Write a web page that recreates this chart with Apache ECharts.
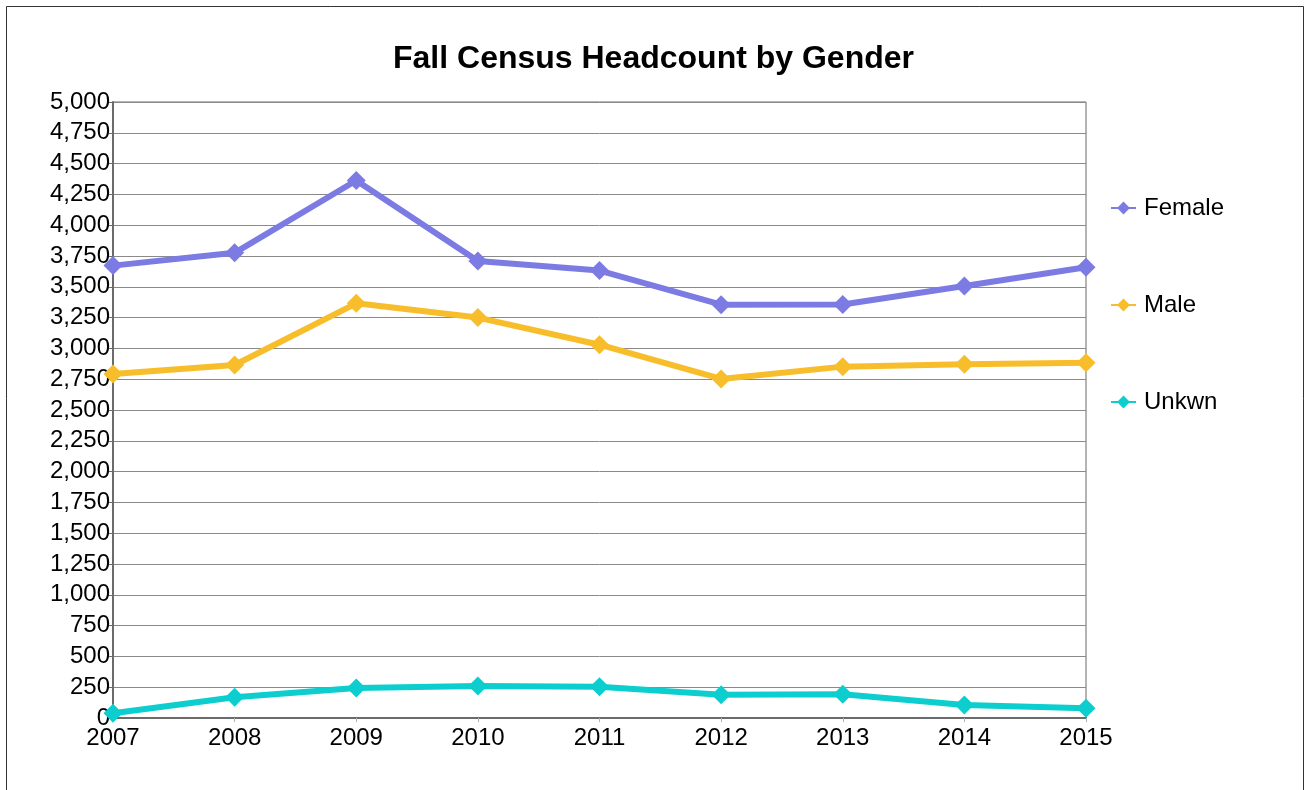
<!DOCTYPE html>
<html>
<head>
<meta charset="utf-8">
<script src="https://cdn.jsdelivr.net/npm/echarts@6/dist/echarts.min.js"></script>
<style>
  html, body { margin: 0; padding: 0; background: #fff; }
  #chart { width: 1307px; height: 790px; }
</style>
</head>
<body>
<div id="chart"></div>
<script>
// ======================
// DATA
// ======================

const years = ['2007', '2008', '2009', '2010', '2011', '2012', '2013', '2014', '2015'];
const female = [3672, 3776, 4363, 3709, 3632, 3355, 3356, 3506, 3659];
const male = [2792, 2865, 3366, 3250, 3030, 2752, 2852, 2871, 2884];
const unkwn = [38, 168, 244, 260, 254, 188, 192, 105, 80];

const seriesNames = ['Female', 'Male', 'Unkwn'];
const seriesColors = ['#7b7be3', '#f8bd2a', '#0ccece'];

const FONT = '"Liberation Sans", Arial, sans-serif';

// ======================
// OPTION BUILDER
// ======================

function buildSeries(name, data, color) {
    return {
        name,
        type: 'line',
        data,
        symbol: 'diamond',
        symbolSize: 19,
        lineStyle: { width: 6, color },
        itemStyle: { color },
        emphasis: { disabled: true },
        animation: false
    };
}

const option = {
    backgroundColor: '#fff',
    textStyle: { fontFamily: FONT },
    title: {
        text: 'Fall Census Headcount by Gender',
        left: 'center',
        top: 38,
        textStyle: { fontSize: 32, fontWeight: 'bold', color: '#000', fontFamily: FONT }
    },
    legend: {
        orient: 'vertical',
        left: 1105,
        top: 191,
        itemWidth: 25,
        itemHeight: 16,
        itemGap: 73,
        textStyle: { fontSize: 24, lineHeight: 24, color: '#000', fontFamily: FONT, padding: [0, 0, 0, 3] },
        data: seriesNames
    },
    grid: {
        left: 113,
        right: 221,
        top: 102,
        bottom: 72,
        show: true,
        borderColor: '#6b6b6b',
        borderWidth: 1
    },
    xAxis: {
        type: 'category',
        data: years,
        boundaryGap: false,
        axisLine: { lineStyle: { color: '#6b6b6b', width: 2 } },
        axisTick: { show: true, length: 4, lineStyle: { color: '#b0b0b0' } },
        axisLabel: { fontSize: 24, color: '#000', margin: 8, fontFamily: FONT },
        splitLine: { show: false }
    },
    yAxis: {
        type: 'value',
        min: 0,
        max: 5000,
        interval: 250,
        axisLine: { show: true, lineStyle: { color: '#6b6b6b', width: 2 } },
        axisTick: { show: true, length: 4, lineStyle: { color: '#6b6b6b' } },
        axisLabel: {
            fontSize: 24,
            color: '#000',
            margin: 3,
            fontFamily: FONT,
            formatter: v => v.toLocaleString('en-US')
        },
        splitLine: { show: true, lineStyle: { color: '#8a8a8a', width: 1 } }
    },
    graphic: [
        {
            type: 'rect',
            silent: true,
            shape: { x: 6.5, y: 6.5, width: 1297, height: 800 },
            style: { fill: 'none', stroke: '#333', lineWidth: 1 }
        }
    ],
    series: [
        buildSeries(seriesNames[0], female, seriesColors[0]),
        buildSeries(seriesNames[1], male, seriesColors[1]),
        buildSeries(seriesNames[2], unkwn, seriesColors[2])
    ]
};

const chart = echarts.init(document.getElementById('chart'), null, { renderer: 'canvas' });
chart.setOption(option);
</script>
</body>
</html>
